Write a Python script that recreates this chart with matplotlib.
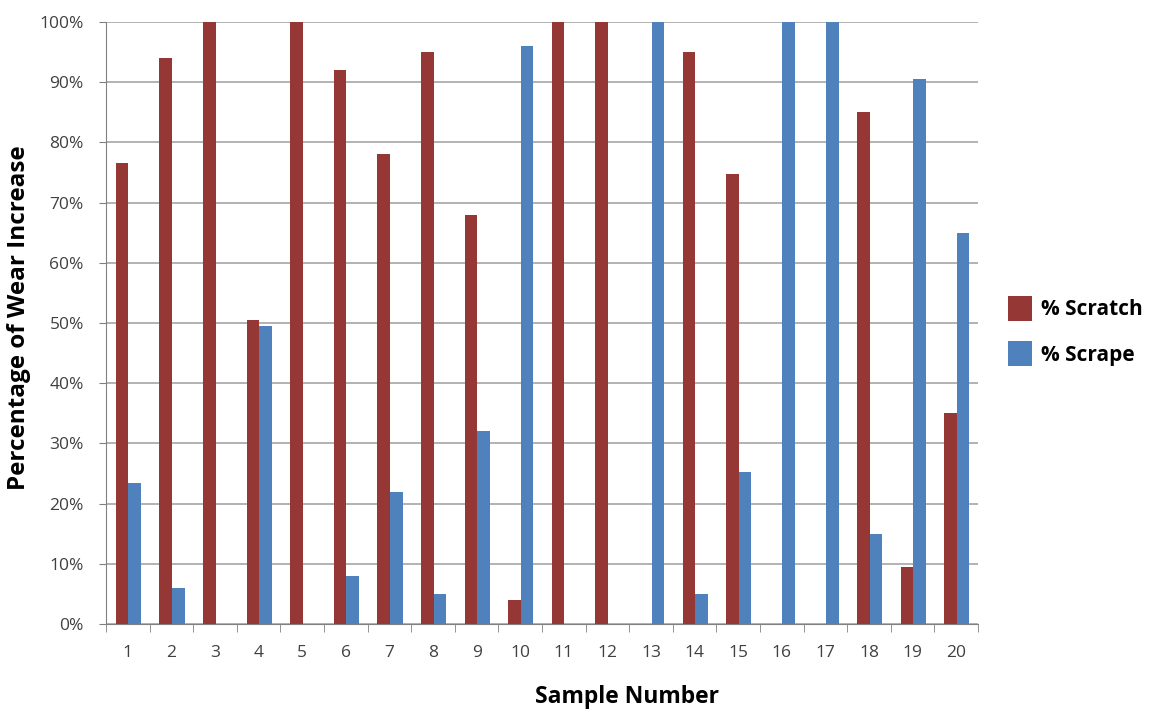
import numpy as np
import matplotlib
matplotlib.use("Agg")
from matplotlib import pyplot as plt
from matplotlib.ticker import PercentFormatter, FixedLocator

samples = [str(i) for i in range(1, 21)]
scratch = [76.5, 94, 100, 50.5, 100, 92, 78, 95, 68, 4,
           100, 100, 0, 95, 74.7, 0, 0, 85, 9.5, 35]
scrape = [23.5, 6, 0, 49.5, 0, 8, 22, 5, 32, 96,
          0, 0, 100, 5, 25.3, 100, 100, 15, 90.5, 65]

plt.rcParams['font.family'] = ['Open Sans', 'DejaVu Sans']

fig = plt.figure(figsize=(11.55, 7.13), dpi=100)
ax = fig.add_axes([106 / 1155, 1 - 624 / 713, (978 - 106) / 1155, (624 - 22) / 713])

x = np.arange(len(samples))
w = 0.29
ax.bar(x - w / 2 + 0.015, scratch, w, color='#953735', label='% Scratch', zorder=3)
ax.bar(x + w / 2 + 0.015, scrape, w, color='#4f81bd', label='% Scrape', zorder=3)

ax.set_xlim(-0.5, len(samples) - 0.5)
ax.set_ylim(0, 100)
ax.set_yticks(np.arange(0, 101, 10))
ax.yaxis.set_major_formatter(PercentFormatter(decimals=0))
ax.yaxis.grid(True, color='#a6a6a6', linewidth=1.2, zorder=0)

ax.set_xticks(x)
ax.set_xticklabels(samples)
ax.xaxis.set_minor_locator(FixedLocator(np.arange(-0.5, len(samples), 1)))
ax.tick_params(axis='x', which='major', length=0, pad=15, labelsize=12.5, labelcolor='#404040')
ax.tick_params(axis='x', which='minor', length=6, color='#808080', direction='out')
ax.tick_params(axis='y', length=5, color='#808080', labelsize=12.5, labelcolor='#404040', pad=11)

for side in ['top', 'right']:
    ax.spines[side].set_visible(False)
for side in ['left', 'bottom']:
    ax.spines[side].set_color('#808080')

# axis titles placed like the original (x title is off-centre)
fig.text(627 / 1155, 1 - 697 / 713, 'Sample Number', fontsize=16.5, fontweight='bold',
         ha='center', va='center')
fig.text(19 / 1155, 1 - 318 / 713, 'Percentage of Wear Increase', fontsize=17.5,
         fontweight='bold', rotation=90, ha='center', va='center')

fig.legend(loc='center left', bbox_to_anchor=(989 / 1155, 1 - 331 / 713), frameon=False,
           prop={'size': 15, 'weight': 'bold'}, handlelength=1.15, handleheight=1.45,
           handletextpad=0.45, labelspacing=1.0)

fig.savefig('out.png', dpi=100)
